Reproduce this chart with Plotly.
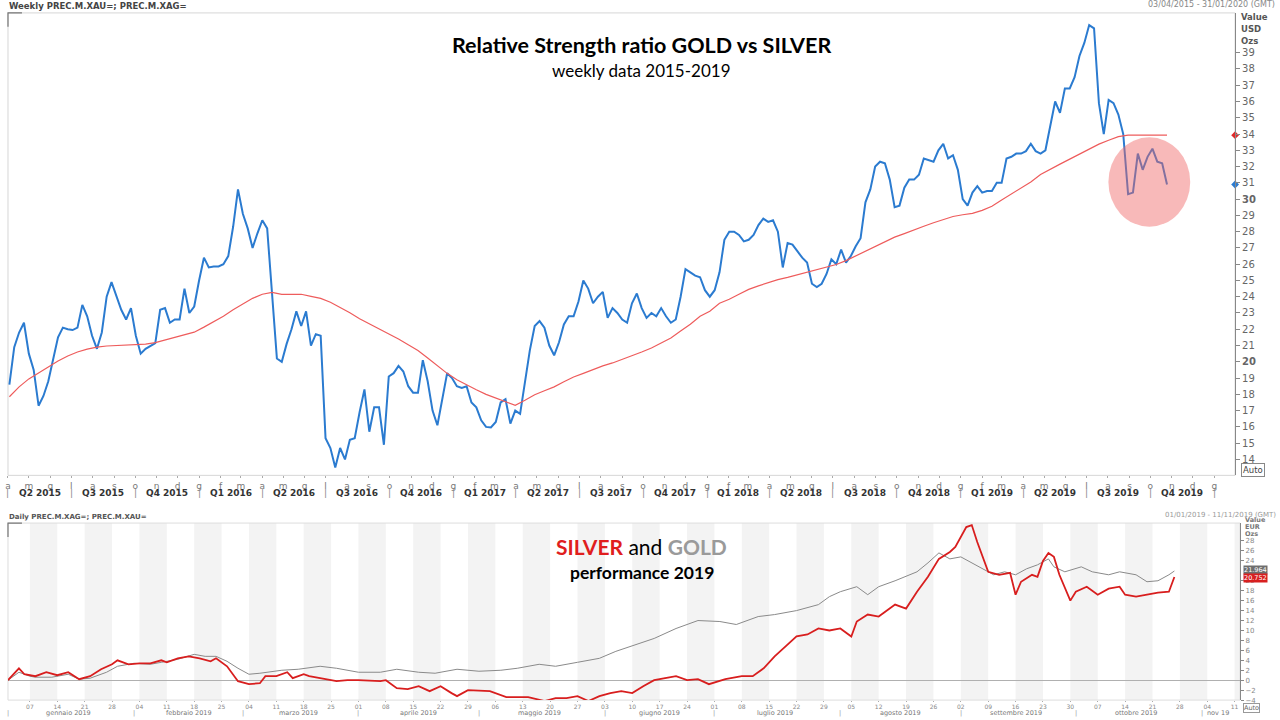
import pandas as pd
import plotly.graph_objects as go

W, H = 1280, 720
def px(x): return x / W
def py(y): return 1 - y / H

# ---------------- DATA ----------------
# Weekly relative strength ratio GOLD vs SILVER (from 2015-04-03, weekly Fridays)
ratio = [
    18.6, 20.9, 21.8, 22.4, 20.5, 19.5, 17.3, 17.9, 18.8, 20.2,
    21.5, 22.1, 22.0, 21.95, 22.1, 23.5, 22.8, 21.6, 20.8, 21.8,
    24.0, 24.9, 24.1, 23.2, 22.6, 23.3, 21.6, 20.5, 20.8, 21.0,
    21.15, 23.2, 23.3, 22.4, 22.6, 22.6, 24.5, 23.0, 23.4, 25.0,
    26.4, 25.8, 25.86, 25.86, 26.0, 26.5, 28.3, 30.6, 29.1, 28.2,
    27.0, 27.9, 28.7, 28.2, 24.0, 20.2, 20.0, 21.1, 22.0, 23.1,
    22.2, 23.1, 21.0, 21.7, 21.6, 15.3, 14.7, 13.5, 14.7, 14.0,
    15.2, 15.3, 16.9, 18.3, 15.7, 17.2, 17.2, 14.9, 19.1, 19.3,
    19.75, 19.4, 18.5, 18.1, 18.1, 20.1, 18.8, 17.0, 16.1, 17.8,
    19.3, 19.0, 18.5, 18.4, 18.5, 17.5, 17.2, 16.4, 16.0, 15.96,
    16.3, 17.5, 17.7, 16.2, 17.0, 16.8, 18.8, 20.7, 22.2, 22.5,
    22.1, 21.0, 20.4, 21.2, 22.3, 22.8, 22.8, 23.7, 25.0, 24.5,
    23.6, 24.0, 24.3, 22.7, 23.3, 23.0, 22.6, 22.4, 23.6, 24.2,
    23.3, 22.7, 23.0, 22.8, 23.3, 22.8, 22.4, 22.6, 24.0, 25.7,
    25.5, 25.3, 25.2, 24.4, 24.0, 24.4, 25.5, 27.5, 28.0, 28.0,
    27.8, 27.4, 27.5, 27.8, 28.4, 28.8, 28.6, 28.7, 28.0, 25.8,
    27.3, 27.2, 26.8, 26.4, 26.1, 24.8, 24.6, 24.8, 25.4, 26.3,
    26.0, 26.9, 26.1, 26.5, 27.1, 27.6, 29.8, 30.6, 32.0, 32.3,
    32.2, 31.2, 29.5, 29.6, 30.7, 31.2, 31.2, 31.5, 32.5, 32.4,
    32.3, 33.0, 33.4, 32.5, 32.7, 31.8, 30.0, 29.6, 30.4, 30.8,
    30.4, 30.5, 30.5, 31.0, 31.0, 32.5, 32.6, 32.8, 32.8, 32.95,
    33.4, 32.95, 32.8, 33.0, 34.5, 36.0, 35.3, 36.8, 36.8, 37.5,
    38.8, 39.6, 40.7, 40.5, 35.9, 34.0, 36.1, 35.9, 35.2, 34.0,
    30.3, 30.4, 32.8, 31.8, 32.6, 33.1, 32.3, 32.2, 30.9,
]
# Moving average of the ratio, read every second week
ratio_ma = [
    17.85, 18.46, 18.95, 19.32, 19.68, 20.05, 20.36, 20.6, 20.78, 20.9,
    20.97, 21.0, 21.03, 21.03, 21.09, 21.18, 21.33, 21.49, 21.64, 21.82,
    22.13, 22.44, 22.8, 23.2, 23.54, 23.9, 24.15, 24.27, 24.15, 24.15,
    24.15, 24.02, 23.9, 23.66, 23.35, 23.02, 22.65, 22.34, 22.04, 21.72,
    21.4, 21.05, 20.7, 20.23, 19.75, 19.29, 18.9, 18.57, 18.28, 18.0,
    17.79, 17.55, 17.33, 17.64, 17.97, 18.22, 18.46, 18.77, 19.07, 19.29,
    19.53, 19.75, 19.93, 20.14, 20.36, 20.6, 20.85, 21.15, 21.46, 21.89,
    22.31, 22.8, 23.11, 23.6, 23.84, 24.15, 24.45, 24.67, 24.88, 25.05,
    25.19, 25.34, 25.49, 25.64, 25.8, 25.98, 26.22, 26.5, 26.8, 27.09,
    27.39, 27.66, 27.88, 28.12, 28.33, 28.55, 28.73, 28.93, 29.04, 29.12,
    29.31, 29.56, 29.95, 30.32, 30.69, 31.05, 31.51, 31.85, 32.15, 32.46,
    32.77, 33.07, 33.38, 33.62, 33.84, 33.93, 33.93, 33.9, 33.93, 33.93,
]
week_dates = pd.date_range("2015-04-03", periods=len(ratio), freq="W-FRI")
ma_dates = week_dates[::2]

month_initials = ["g", "f", "m", "a", "m", "g", "l", "a", "s", "o", "n", "d"]

# 2019 performance (%) — silver (red) and gold (grey)
silver_dates = [
    "2019-01-01", "2019-01-03", "2019-01-04", "2019-01-08", "2019-01-10", "2019-01-14", "2019-01-16",
    "2019-01-18", "2019-01-22", "2019-01-24", "2019-01-28", "2019-01-29", "2019-01-31", "2019-02-04",
    "2019-02-06", "2019-02-08", "2019-02-11", "2019-02-13", "2019-02-15", "2019-02-19", "2019-02-21",
    "2019-02-22", "2019-02-26", "2019-02-28", "2019-03-04", "2019-03-06", "2019-03-07", "2019-03-11",
    "2019-03-13", "2019-03-14", "2019-03-18", "2019-03-19", "2019-03-26", "2019-03-28", "2019-04-01",
    "2019-04-05", "2019-04-08", "2019-04-10", "2019-04-12", "2019-04-16", "2019-04-18", "2019-04-22",
    "2019-04-24", "2019-04-25", "2019-04-29", "2019-05-03", "2019-05-08", "2019-05-14", "2019-05-17",
    "2019-05-21", "2019-05-23", "2019-05-27", "2019-05-29", "2019-05-31", "2019-06-04", "2019-06-06",
    "2019-06-10", "2019-06-12", "2019-06-14", "2019-06-20", "2019-06-24", "2019-06-26", "2019-06-28",
    "2019-07-03", "2019-07-08", "2019-07-10", "2019-07-12", "2019-07-16", "2019-07-18", "2019-07-22",
    "2019-07-24", "2019-07-26", "2019-07-30", "2019-08-01", "2019-08-05", "2019-08-06", "2019-08-08",
    "2019-08-12", "2019-08-14", "2019-08-15", "2019-08-19", "2019-08-21", "2019-08-23", "2019-08-27",
    "2019-08-29", "2019-08-30", "2019-09-03", "2019-09-04", "2019-09-05", "2019-09-06", "2019-09-09",
    "2019-09-11", "2019-09-13", "2019-09-16", "2019-09-17", "2019-09-19", "2019-09-20", "2019-09-23",
    "2019-09-24", "2019-09-25", "2019-09-26", "2019-09-30", "2019-10-01", "2019-10-03", "2019-10-07",
    "2019-10-09", "2019-10-11", "2019-10-14", "2019-10-16", "2019-10-18", "2019-10-22", "2019-10-24",
    "2019-10-25",
]
silver_perf = [
    0.0, 2.4, 1.2, 0.8, 1.6, 1.0, 1.6,
    0.2, 0.8, 2.2, 3.2, 4.0, 3.2, 3.4,
    3.4, 4.0, 3.6, 4.4, 4.8, 4.4, 3.8,
    4.4, 2.8, -0.2, -0.8, -0.6, 0.8, 0.8,
    1.6, 0.4, 1.2, 0.8, -0.2, 0.0, 0.0,
    -0.2, 0.0, -1.6, -1.8, -1.2, -2.2, -1.2,
    -2.6, -3.2, -2.0, -2.2, -3.4, -3.4, -4.2,
    -3.6, -3.6, -3.2, -4.2, -3.2, -2.6, -2.2,
    -2.6, -1.2, 0.0, 0.8, 0.0, 0.2, -0.8,
    0.2, 0.8, 0.8, 2.4, 4.8, 6.8, 8.8,
    9.2, 10.4, 10.0, 10.4, 8.8, 11.8, 13.2,
    12.8, 14.4, 15.2, 14.4, 17.8, 20.8, 24.4,
    25.8, 26.8, 30.8, 31.2, 27.8, 24.8, 21.8,
    21.2, 21.6, 17.2, 19.8, 21.2, 20.8, 24.0,
    25.6, 24.8, 21.2, 16.0, 17.8, 18.8, 17.2,
    18.4, 18.8, 17.2, 16.8, 17.2, 17.6, 17.8,
    20.75,
]
gold_dates = [
    "2019-01-01", "2019-01-03", "2019-01-07", "2019-01-08", "2019-01-11", "2019-01-16", "2019-01-18",
    "2019-01-22", "2019-01-25", "2019-01-29", "2019-02-01", "2019-02-06", "2019-02-08", "2019-02-13",
    "2019-02-18", "2019-02-20", "2019-02-22", "2019-02-26", "2019-02-28", "2019-03-04", "2019-03-06",
    "2019-03-12", "2019-03-15", "2019-03-21", "2019-03-26", "2019-04-01", "2019-04-05", "2019-04-10",
    "2019-04-16", "2019-04-19", "2019-04-25", "2019-05-01", "2019-05-07", "2019-05-10", "2019-05-16",
    "2019-05-21", "2019-05-27", "2019-05-31", "2019-06-05", "2019-06-11", "2019-06-14", "2019-06-20",
    "2019-06-26", "2019-07-02", "2019-07-05", "2019-07-11", "2019-07-16", "2019-07-22", "2019-07-26",
    "2019-07-30", "2019-08-01", "2019-08-06", "2019-08-08", "2019-08-12", "2019-08-15", "2019-08-21",
    "2019-08-23", "2019-08-27", "2019-08-29", "2019-09-02", "2019-09-04", "2019-09-06", "2019-09-10",
    "2019-09-12", "2019-09-16", "2019-09-18", "2019-09-20", "2019-09-24", "2019-09-25", "2019-09-27",
    "2019-10-01", "2019-10-02", "2019-10-04", "2019-10-09", "2019-10-11", "2019-10-16", "2019-10-18",
    "2019-10-22", "2019-10-24", "2019-10-25",
]
gold_perf = [
    0.0, 1.6, 0.8, 0.6, 0.6, 1.2, 0.2,
    0.4, 1.6, 2.8, 3.4, 3.2, 3.6, 4.2,
    5.2, 4.8, 4.8, 3.8, 2.4, 1.2, 1.4,
    2.0, 2.2, 2.8, 2.4, 1.6, 1.6, 2.2,
    1.6, 1.4, 2.2, 1.8, 2.0, 2.4, 3.2,
    2.8, 3.6, 4.4, 5.8, 7.2, 8.4, 10.4,
    12.0, 11.8, 11.2, 12.8, 13.2, 14.0, 15.2,
    16.8, 17.8, 18.8, 17.2, 18.8, 20.0, 21.8,
    23.6, 25.6, 24.4, 24.8, 23.6, 22.4, 21.2,
    21.8, 21.2, 22.4, 23.2, 24.4, 22.8, 21.8,
    22.4, 22.8, 21.8, 21.2, 21.8, 21.2, 19.8,
    20.0, 21.2, 21.96,
]
month_names_it = ["gennaio 2019", "febbraio 2019", "marzo 2019", "aprile 2019", "maggio 2019",
                  "giugno 2019", "luglio 2019", "agosto 2019", "settembre 2019", "ottobre 2019", "nov 19"]
perf_ticks = [-4, -2, 0, 2, 4, 6, 8, 10, 12, 14, 16, 18, 20, 24, 26, 28]

# ---------------- STYLE ----------------
UI = "DejaVu Sans"
TITLE = "Lato"
BLUE = "#2b7bd0"
MA_RED = "#ee5c5c"
SILVER_RED = "#d81e1e"
GOLD_GREY = "#8a8a8a"

fig = go.Figure()

# top chart
fig.add_trace(go.Scatter(x=week_dates, y=ratio, mode="lines",
                         line=dict(color=BLUE, width=2), xaxis="x", yaxis="y", hoverinfo="skip"))
fig.add_trace(go.Scatter(x=ma_dates, y=ratio_ma, mode="lines",
                         line=dict(color=MA_RED, width=1.2), xaxis="x", yaxis="y", hoverinfo="skip"))
fig.add_trace(go.Scatter(x=[pd.Timestamp("2020-01-31")] * 2, y=[ratio_ma[-1], ratio[-1]], mode="markers",
                         marker=dict(color=["#e02828", BLUE], symbol="diamond", size=6),
                         cliponaxis=False, xaxis="x", yaxis="y", hoverinfo="skip"))

# bottom chart
fig.add_trace(go.Scatter(x=pd.to_datetime(gold_dates), y=gold_perf, mode="lines",
                         line=dict(color=GOLD_GREY, width=1), xaxis="x2", yaxis="y2", hoverinfo="skip"))
fig.add_trace(go.Scatter(x=pd.to_datetime(silver_dates), y=silver_perf, mode="lines",
                         line=dict(color=SILVER_RED, width=1.8), xaxis="x2", yaxis="y2", hoverinfo="skip"))

month_starts = pd.date_range("2015-04-01", "2020-01-01", freq="MS")
mondays = pd.date_range("2019-01-07", "2019-11-11", freq="W-MON")

shapes = []
annotations = []

# alternating weekly bands on bottom chart
for m in pd.date_range("2019-01-07", "2019-11-11", freq="2W-MON"):
    shapes.append(dict(type="rect", xref="x2", yref="y2 domain", x0=m, x1=m + pd.Timedelta(days=5),
                       y0=0, y1=1, fillcolor="#f3f3f3", line=dict(width=0), layer="below"))

# frames
shapes.append(dict(type="rect", xref="paper", yref="paper", x0=px(5), x1=px(1235), y0=py(478), y1=py(13),
                   line=dict(color="#d6d6d6", width=1), layer="below"))
shapes.append(dict(type="rect", xref="paper", yref="paper", x0=px(5), x1=px(1240), y0=py(704), y1=py(526),
                   line=dict(color="#dddddd", width=1), layer="below"))
for (cx, cy) in [(5, 13), (5, 526)]:
    shapes.append(dict(type="path", xref="paper", yref="paper",
                       path=f"M {px(cx)} {py(cy + 14)} L {px(cx)} {py(cy)} L {px(cx + 14)} {py(cy)}",
                       line=dict(color="#777", width=1.2)))

# highlight circle
shapes.append(dict(type="circle", xref="paper", yref="paper", x0=px(1108), x1=px(1190), y0=py(228), y1=py(138),
                   fillcolor="rgba(240,100,100,0.45)", line=dict(width=0), layer="above"))

def ann(text, x, y, size, color="#444", family=UI, xanchor="center", yanchor="middle", **kw):
    d = dict(text=text, x=x, y=y, xref="paper", yref="paper", showarrow=False,
             font=dict(family=family, size=size, color=color), xanchor=xanchor, yanchor=yanchor)
    d.update(kw)
    annotations.append(d)

# headers
ann("<b>Weekly PREC.M.XAU=; PREC.M.XAG=</b>", px(4), py(6), 8.5, "#444", xanchor="left")
ann("03/04/2015 - 31/01/2020 (GMT)", px(1277), py(5), 8, "#888", xanchor="right")
for i, t in enumerate(["Value", "USD", "Ozs"]):
    ann(f"<b>{t}</b>", px(1239), py(17 + 12 * i), 8.5, "#555", xanchor="left")
ann("Auto", px(1241), py(473), 8.5, "#444", xanchor="left", bordercolor="#888", borderwidth=1, borderpad=1)

ann("<b>Relative Strength ratio GOLD vs SILVER</b>", px(640), py(45), 21.5, "#000", family=TITLE)
ann("weekly data 2015-2019", px(640), py(71), 17, "#000", family=TITLE)

# quarter labels for top chart
q_starts = pd.date_range("2015-04-01", "2019-10-01", freq="QS")
for qs in q_starts:
    qe = qs + pd.DateOffset(months=3)
    mid = qs + (qe - qs) / 2
    q = (qs.month - 1) // 3 + 1
    annotations.append(dict(text=f"<b>Q{q} {qs.year}</b>", x=mid, xref="x", y=py(496), yref="paper",
                            showarrow=False, font=dict(family=UI, size=9, color="#333"),
                            xanchor="center", yanchor="middle"))
for qs in list(q_starts) + [pd.Timestamp("2020-01-01")]:
    annotations.append(dict(text="|", x=qs, xref="x", y=py(496), yref="paper", showarrow=False,
                            font=dict(family=UI, size=9, color="#888"), xanchor="center", yanchor="middle"))

# bottom chart headers
ann("<b>Daily PREC.M.XAG=; PREC.M.XAU=</b>", px(4), py(520), 7, "#555", xanchor="left")
ann("01/01/2019 - 11/11/2019 (GMT)", px(1278), py(518), 7, "#999", xanchor="right")
for i, t in enumerate(["Value", "EUR", "Ozs"]):
    ann(f"<b>{t}</b>", px(1243), py(523 + 6.8 * i), 6.5, "#777", xanchor="left")
ann("<b><span style='color:#e01e1e'>SILVER</span></b> and <b><span style='color:#9a9a9a'>GOLD</span></b>",
    px(640), py(550), 21, "#000", family=TITLE)
ann("<b>performance 2019</b>", px(640), py(576), 17.5, "#000", family=TITLE)
ann("21.964", px(1243), py(573), 6.5, "#fff", xanchor="left", bgcolor="#6e6e6e", borderpad=0)
ann("20.752", px(1243), py(581), 6.5, "#fff", xanchor="left", bgcolor="#d82020", borderpad=0)
ann("Auto", px(1243), py(712), 6.5, "#666", xanchor="left", bordercolor="#999", borderwidth=1, borderpad=0)

# bottom month labels
month_bounds = list(pd.date_range("2019-01-01", "2019-11-01", freq="MS")) + [pd.Timestamp("2019-11-12")]
for i in range(len(month_bounds) - 1):
    bd = pd.bdate_range(month_bounds[i], month_bounds[i + 1] - pd.Timedelta(days=1))
    mid = bd[len(bd) // 2]
    annotations.append(dict(text=month_names_it[i], x=mid, xref="x2", y=py(716.5), yref="paper",
                            showarrow=False, font=dict(family=UI, size=6.5, color="#777"),
                            xanchor="center", yanchor="middle"))
    annotations.append(dict(text="|", x=bd[0], xref="x2", y=py(716.5), yref="paper",
                            showarrow=False, font=dict(family=UI, size=6.5, color="#999"),
                            xanchor="center", yanchor="middle"))

fig.update_layout(
    width=W, height=H, margin=dict(l=0, r=0, t=0, b=0),
    paper_bgcolor="white", plot_bgcolor="white", showlegend=False,
    xaxis=dict(domain=[px(5), px(1235)], anchor="y", type="date",
               range=["2015-04-01", "2020-01-31"],
               tickvals=list(month_starts), ticktext=[month_initials[d.month - 1] for d in month_starts],
               ticks="outside", ticklen=2, tickcolor="#aaa",
               tickfont=dict(family=UI, size=9, color="#777"),
               showgrid=False, zeroline=False, showline=False),
    yaxis=dict(domain=[py(478), py(13)], anchor="x", side="right", range=[13.02, 41.445],
               tickvals=list(range(14, 40)),
               ticktext=[f"<b>{v}</b>" if v in (20, 30) else str(v) for v in range(14, 40)],
               ticks="outside", ticklen=4, tickcolor="#888", showline=True, linecolor="#888",
               tickfont=dict(family=UI, size=10, color="#666"),
               showgrid=False, zeroline=False),
    xaxis2=dict(domain=[px(5), px(1240)], anchor="y2", type="date",
                range=["2019-01-01", "2019-11-12"],
                rangebreaks=[dict(bounds=["sat", "mon"])],
                tickvals=list(mondays), tickformat="%d",
                ticks="outside", ticklen=1, tickcolor="#aaa",
                tickfont=dict(family=UI, size=6, color="#888"),
                ticklabelstandoff=0,
                showgrid=False, zeroline=False, showline=False),
    yaxis2=dict(domain=[py(704), py(526)], anchor="x2", side="right", range=[-4.0, 31.6],
                tickvals=perf_ticks,
                ticks="outside", ticklen=3, tickcolor="#888", showline=True, linecolor="#888",
                tickfont=dict(family=UI, size=7, color="#888"),
                showgrid=False, zeroline=True, zerolinecolor="#b0b0b0", zerolinewidth=1),
    shapes=shapes, annotations=annotations,
)

fig.write_html("out.html", config={"displayModeBar": False},
               post_script="document.body.style.margin='0';document.body.style.padding='0';"
                           "document.body.style.overflow='hidden';")
